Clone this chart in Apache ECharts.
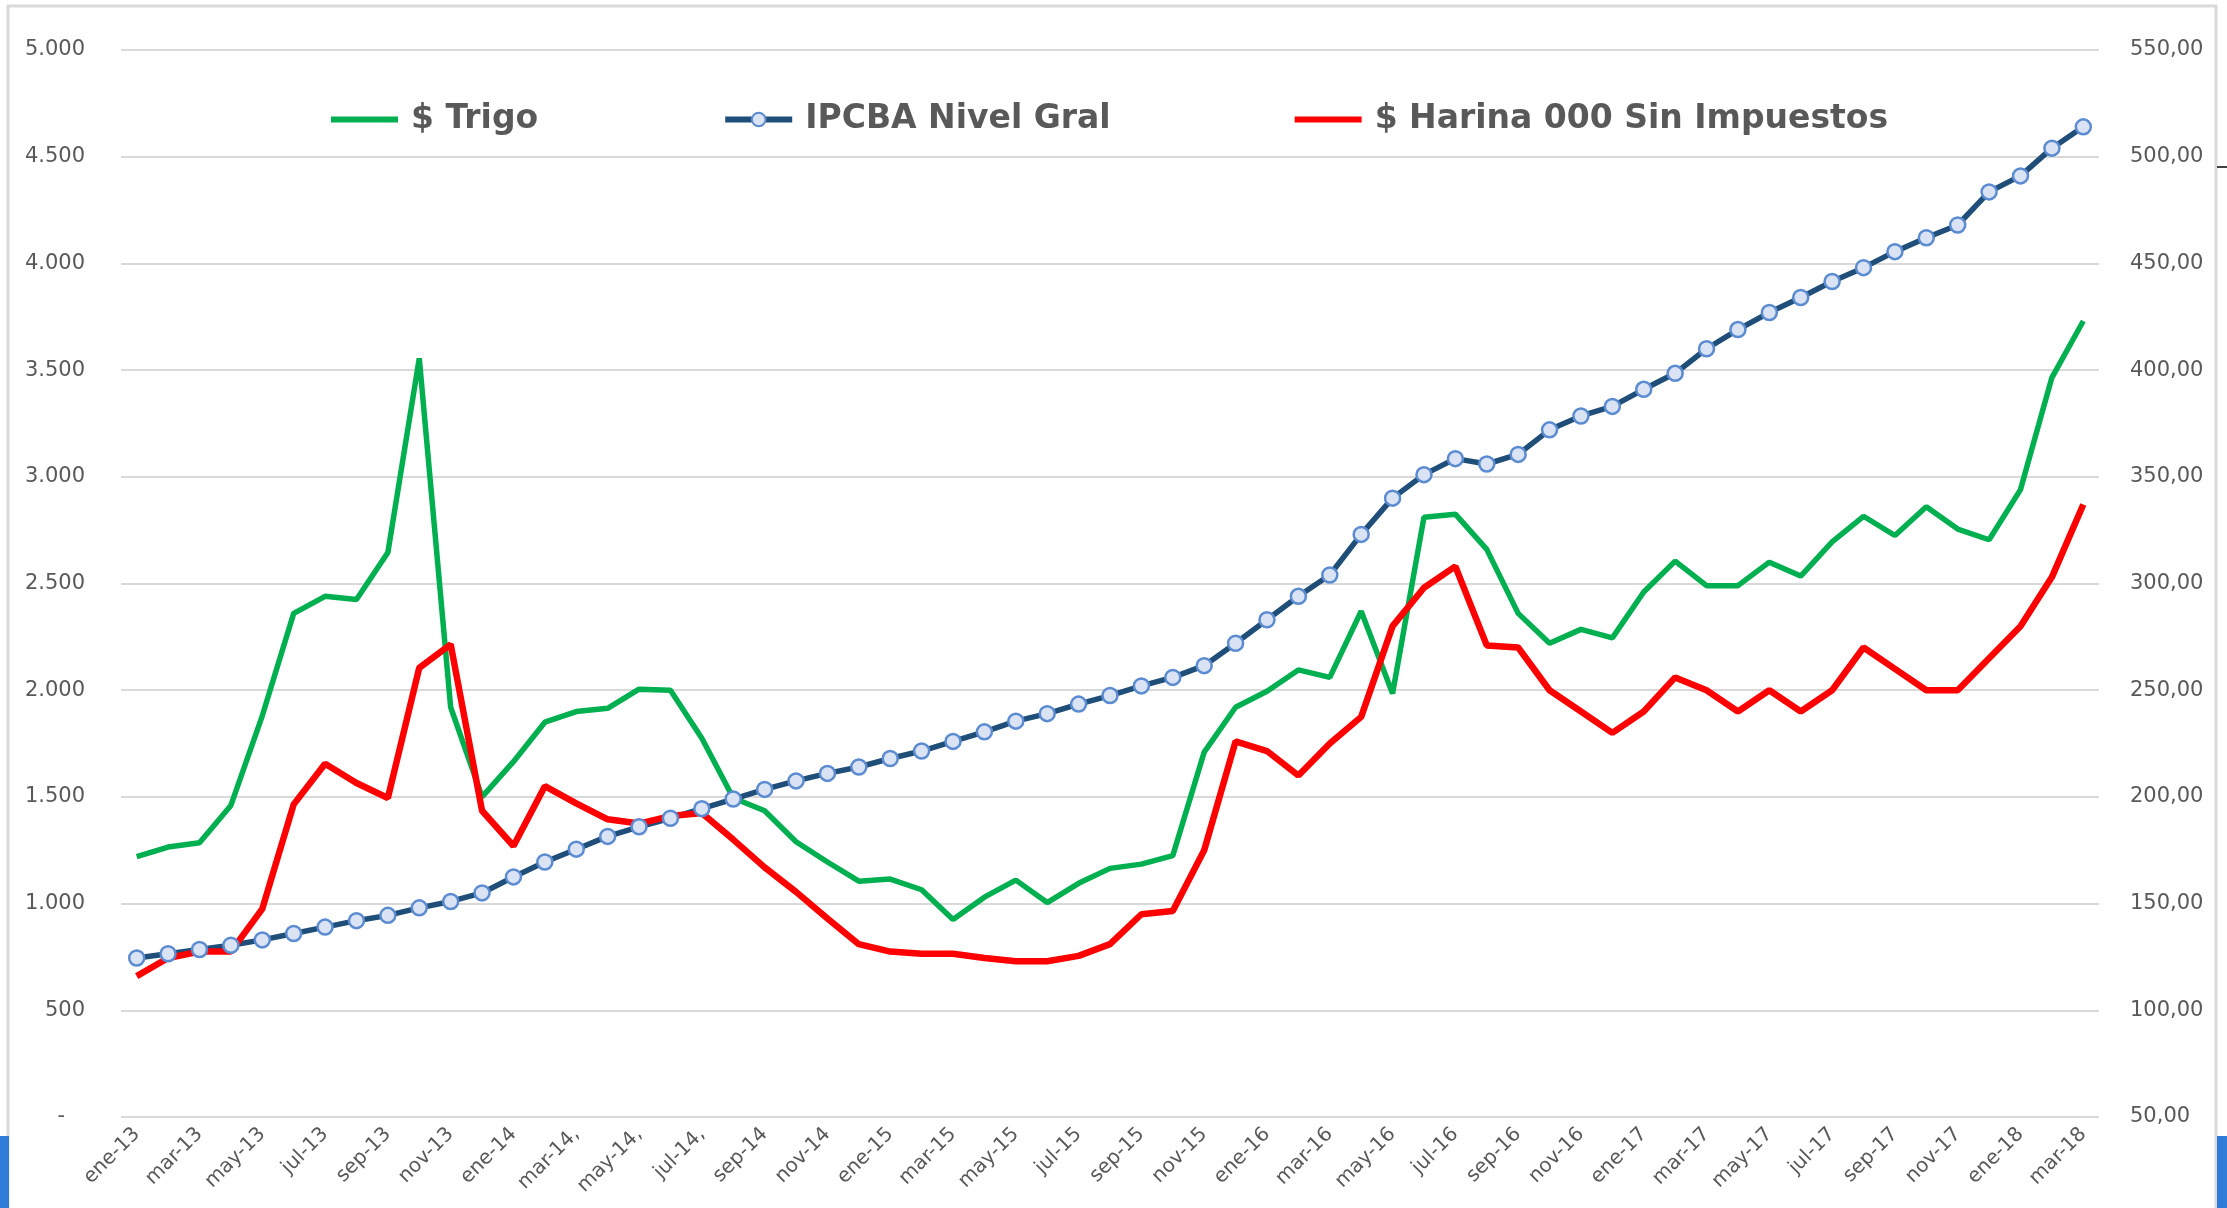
<!DOCTYPE html>
<html>
<head>
<meta charset="utf-8">
<script src="https://cdn.jsdelivr.net/npm/echarts@6/dist/echarts.min.js"></script>
<style>
  html, body { margin: 0; padding: 0; background: #fff; }
  #chart { width: 2227px; height: 1208px; }
</style>
</head>
<body>
<div id="chart"></div>
<script>
// meses ene-13 .. mar-18
var meses = ['ene-13','feb-13','mar-13','abr-13','may-13','jun-13','jul-13','ago-13','sep-13','oct-13','nov-13','dic-13',
    'ene-14','feb-14','mar-14,','abr-14','may-14,','jun-14','jul-14,','ago-14','sep-14','oct-14','nov-14','dic-14',
    'ene-15','feb-15','mar-15','abr-15','may-15','jun-15','jul-15','ago-15','sep-15','oct-15','nov-15','dic-15',
    'ene-16','feb-16','mar-16','abr-16','may-16','jun-16','jul-16','ago-16','sep-16','oct-16','nov-16','dic-16',
    'ene-17','feb-17','mar-17','abr-17','may-17','jun-17','jul-17','ago-17','sep-17','oct-17','nov-17','dic-17',
    'ene-18','feb-18','mar-18'];

var trigo = [1220,1265,1285,1460,1880,2360,2440,2425,2645,3555,1920,1500,
    1665,1850,1900,1915,2005,2000,1775,1495,1435,1290,1195,1105,
    1115,1065,925,1030,1110,1005,1095,1165,1185,1225,1710,1920,
    1995,2095,2060,2370,1985,2810,2825,2660,2360,2220,2285,2245,
    2460,2605,2490,2490,2600,2535,2695,2815,2725,2860,2755,2705,
    2940,3465,3730];

var ipcba = [124.5,126.5,128.5,130.5,133,136,139,142,144.5,148,151,155,
    162.5,169.5,175.5,181.5,186,190,194.5,199,203.5,207.5,211,214,
    218,221.5,226,230.5,235.5,239,243.5,247.5,252,256,261.5,272,
    283,294,304,323,340,351,358.5,356,360.5,372,378.5,383,
    391,398.5,410,419,427,434,441.5,448,455.5,462,468,483.5,
    491,504,514];

var harina = [660,745,775,775,975,1465,1655,1565,1495,2105,2215,1435,
    1270,1550,1470,1395,1375,1410,1425,1300,1170,1055,930,810,
    775,765,765,745,730,730,755,810,950,965,1250,1760,
    1715,1600,1750,1875,2300,2480,2580,2210,2200,2000,1900,1800,
    1900,2060,2000,1900,2000,1900,2000,2200,2100,2000,2000,2150,
    2300,2530,2870];

var nombres = ['$ Trigo', 'IPCBA Nivel Gral', '$ Harina 000 Sin Impuestos'];

var gris = '#595959';
var barra = 'path://M0,0 L67,0 L67,6 L0,6 Z';

function fmtIzq(v) {
    if (v === 0) return '-   ';
    return String(v).replace(/\B(?=(\d{3})+(?!\d))/g, '.');
}

function fmtDer(v) {
    return v.toFixed(2).replace('.', ',');
}

var chart = echarts.init(document.getElementById('chart'));

var option = {
    backgroundColor: '#fff',
    animation: false,
    grid: { left: 121, right: 128, top: 50, bottom: 91 },
    legend: {
        data: [
            { name: nombres[0], icon: barra },
            { name: nombres[1] },
            { name: nombres[2], icon: barra }
        ],
        left: 326,
        top: 98,
        itemWidth: 67,
        itemHeight: 17,
        itemGap: 184,
        lineStyle: { width: 6 },
        textStyle: { color: gris, fontSize: 33, fontWeight: 'bold', fontFamily: 'DejaVu Sans', padding: [0, 0, 0, 8] }
    },
    xAxis: {
        type: 'category',
        data: meses,
        boundaryGap: true,
        axisLine: { show: false },
        axisTick: { show: false },
        axisLabel: {
            interval: 1,
            rotate: 45,
            margin: 14,
            color: gris,
            fontSize: 20,
            fontFamily: 'DejaVu Sans'
        }
    },
    yAxis: [
        {
            type: 'value',
            min: 0,
            max: 5000,
            interval: 500,
            axisLine: { show: false },
            axisTick: { show: false },
            splitLine: { lineStyle: { color: '#d9d9d9', width: 2 } },
            axisLabel: { formatter: fmtIzq, color: gris, fontSize: 21, fontFamily: 'DejaVu Sans', margin: 36 }
        },
        {
            type: 'value',
            min: 50,
            max: 550,
            interval: 50,
            position: 'right',
            axisLine: { show: false },
            axisTick: { show: false },
            splitLine: { show: false },
            axisLabel: { formatter: fmtDer, color: gris, fontSize: 21, fontFamily: 'DejaVu Sans', margin: 31 }
        }
    ],
    series: [
        {
            name: nombres[0],
            type: 'line',
            data: trigo,
            symbol: 'none',
            lineStyle: { color: '#00b050', width: 5.5 },
            itemStyle: { color: '#00b050' }
        },
        {
            name: nombres[1],
            type: 'line',
            yAxisIndex: 1,
            data: ipcba,
            symbol: 'circle',
            symbolSize: 15,
            lineStyle: { color: '#1f4e79', width: 5.5 },
            itemStyle: { color: '#dae3f3', borderColor: '#5b8bd0', borderWidth: 2.5 }
        },
        {
            name: nombres[2],
            type: 'line',
            data: harina,
            symbol: 'none',
            lineStyle: { color: '#ff0000', width: 6.5 },
            itemStyle: { color: '#ff0000' }
        }
    ],
    graphic: [
        { type: 'rect', shape: { x: 8, y: 6, width: 2208, height: 1210 }, style: { fill: 'none', stroke: '#d9d9d9', lineWidth: 3 }, silent: true },
        { type: 'rect', shape: { x: 0, y: 1136, width: 9, height: 72 }, style: { fill: '#2f7bd8' }, silent: true },
        { type: 'rect', shape: { x: 2217, y: 1136, width: 10, height: 72 }, style: { fill: '#2f7bd8' }, silent: true },
        { type: 'line', shape: { x1: 2217, y1: 167, x2: 2227, y2: 167 }, style: { stroke: '#404040', lineWidth: 2 }, silent: true }
    ]
};

chart.setOption(option);
</script>
</body>
</html>
